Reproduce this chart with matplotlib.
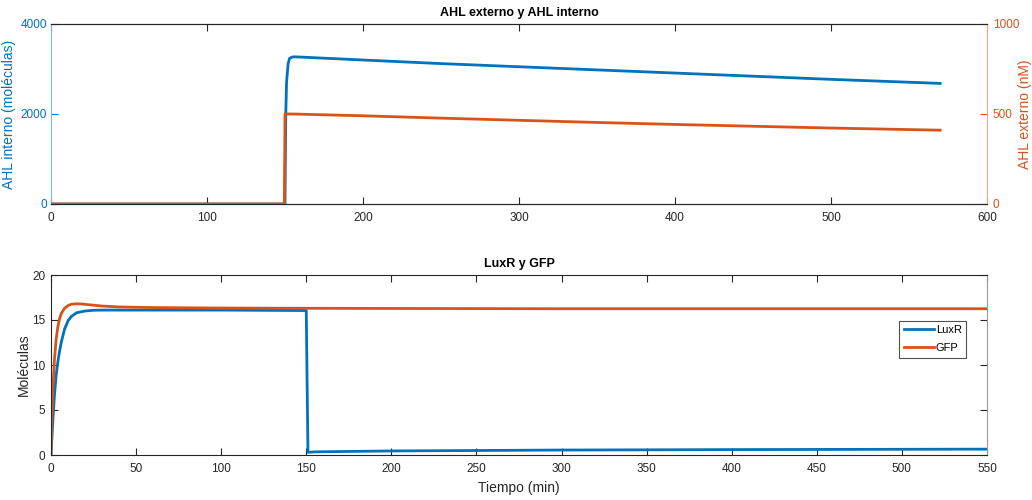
import matplotlib
matplotlib.use("Agg")
import matplotlib.pyplot as plt

plt.rcParams['font.family'] = ['Liberation Sans', 'DejaVu Sans']

BLUE = '#0072BD'
ORANGE = '#D95319'
GREY = '#262626'

# AHL interno (moléculas), left axis
t_int = [0, 150, 150.5, 151, 152, 153, 155, 160, 200, 250, 300, 350, 400, 450, 500, 570]
ahl_int = [0, 0, 2000, 2700, 3120, 3240, 3270, 3265, 3200, 3120, 3050, 2980, 2910, 2840, 2770, 2680]

# AHL externo (nM), right axis
t_ext = [0, 149.6, 150, 155, 200, 250, 300, 350, 400, 450, 500, 570]
ahl_ext = [0, 0, 500, 500, 490, 477, 465, 453, 442, 432, 422, 410]

# LuxR and GFP (moléculas)
t_luxr = [0, 0.5, 1, 2, 3, 4, 5, 6, 8, 10, 12, 15, 20, 25, 30, 40, 100, 150, 150.5, 151, 155, 200, 300, 400, 550]
luxr = [0, 1.8, 3.5, 6.5, 8.8, 10.3, 11.5, 12.5, 14.0, 14.9, 15.4, 15.8, 16.0, 16.08, 16.1, 16.1, 16.1, 16.05, 8.0, 0.3, 0.35, 0.45, 0.55, 0.6, 0.65]

t_gfp = [0, 0.5, 1, 2, 3, 4, 5, 6, 8, 10, 12, 15, 18, 22, 30, 40, 60, 100, 150, 300, 550]
gfp = [0, 4.0, 7.0, 10.5, 12.8, 14.2, 15.1, 15.7, 16.3, 16.6, 16.75, 16.8, 16.78, 16.7, 16.55, 16.45, 16.38, 16.33, 16.3, 16.25, 16.25]

TICK_FS = 8.5
LABEL_FS = 10

fig = plt.figure(figsize=(10.32, 5.0), dpi=100)

# ---- top: AHL externo y AHL interno ----
ax1 = fig.add_axes([0.0494, 0.592, 0.907, 0.36])
ax1.plot(t_int, ahl_int, color=BLUE, lw=2)
ax1.set_xlim(0, 600)
ax1.set_ylim(0, 4000)
ax1.set_xticks(range(0, 601, 100))
ax1.set_yticks([0, 2000, 4000])
ax1.set_ylabel('AHL interno (moléculas)', color=BLUE, fontsize=LABEL_FS)
ax1.yaxis.set_label_coords(-0.037, 0.5)
ax1.set_title('AHL externo y AHL interno', fontsize=9, fontweight='bold', color='black', pad=6)

ax2 = ax1.twinx()
ax2.plot(t_ext, ahl_ext, color=ORANGE, lw=2)
ax2.set_ylim(0, 1000)
ax2.set_yticks([0, 500, 1000])
ax2.set_ylabel('AHL externo (nM)', color=ORANGE, fontsize=LABEL_FS)
ax2.yaxis.set_label_coords(1.033, 0.5)

for ax in (ax1, ax2):
    ax.tick_params(direction='in', length=5, width=0.8, labelsize=TICK_FS)
ax1.tick_params(axis='x', colors=GREY, top=True, pad=6)
ax1.tick_params(axis='y', colors=BLUE, pad=3)
ax2.tick_params(axis='y', colors=ORANGE, pad=4)
ax1.spines['left'].set_color('#7FB8DE')
ax1.spines['top'].set_color(GREY)
ax1.spines['bottom'].set_color(GREY)
ax1.spines['right'].set_visible(False)
ax2.spines['right'].set_color('#EDA98C')
ax2.spines['left'].set_visible(False)
ax2.spines['top'].set_color(GREY)
ax2.spines['bottom'].set_color(GREY)
for sp in list(ax1.spines.values()) + list(ax2.spines.values()):
    sp.set_linewidth(0.8)

# ---- bottom: LuxR y GFP ----
ax3 = fig.add_axes([0.0494, 0.09, 0.907, 0.36])
ax3.plot(t_luxr, luxr, color=BLUE, lw=2, label='LuxR')
ax3.plot(t_gfp, gfp, color=ORANGE, lw=2, label='GFP')
ax3.set_xlim(0, 550)
ax3.set_ylim(0, 20)
ax3.set_xticks(range(0, 551, 50))
ax3.set_yticks(range(0, 21, 5))
ax3.set_xlabel('Tiempo (min)', fontsize=LABEL_FS, color=GREY, labelpad=4)
ax3.set_ylabel('Moléculas', fontsize=LABEL_FS, color=GREY)
ax3.yaxis.set_label_coords(-0.021, 0.5)
ax3.set_title('LuxR y GFP', fontsize=9, fontweight='bold', color='black', pad=6)
ax3.tick_params(direction='in', length=5, width=0.8, labelsize=TICK_FS, colors=GREY,
                top=True, right=True)
ax3.tick_params(axis='x', pad=6)
ax3.tick_params(axis='y', pad=4)
for sp in ax3.spines.values():
    sp.set_color(GREY)
    sp.set_linewidth(0.8)
ax3.spines['right'].set_color('#999999')

leg = ax3.legend(loc='upper right', bbox_to_anchor=(0.978, 0.745), fontsize=8,
                 frameon=True, fancybox=False, edgecolor=GREY, handlelength=2.7,
                 handletextpad=0.2, borderpad=0.4, labelspacing=0.7,
                 borderaxespad=0)
leg.get_frame().set_linewidth(0.8)

fig.savefig('out.png', dpi=100)
